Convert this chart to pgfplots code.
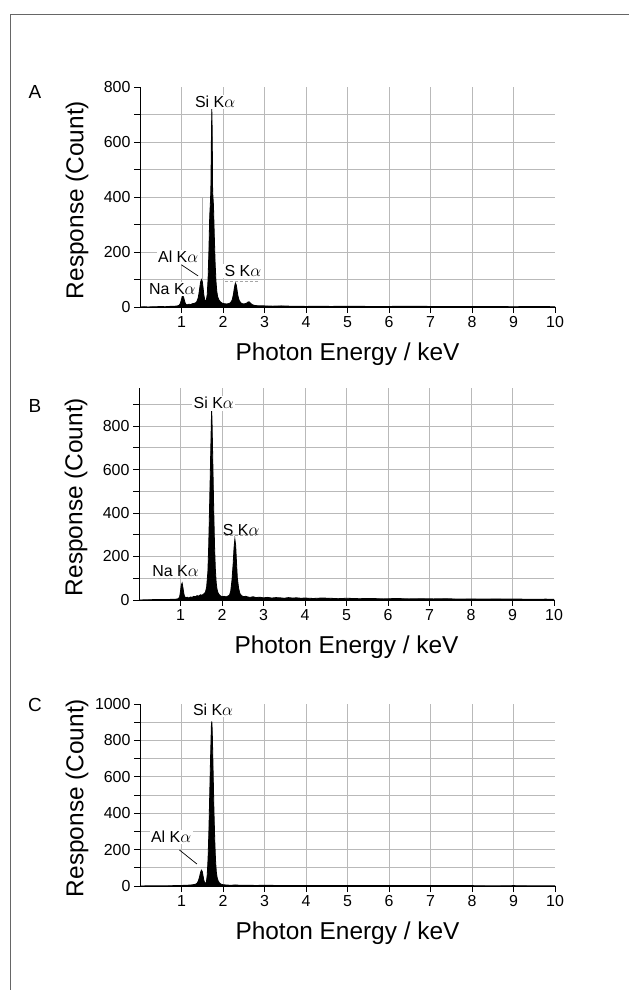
\documentclass[border=0pt]{standalone}
\usepackage{fontspec}
\setmainfont{Liberation Sans}
\usepackage{pgfplots}
\pgfplotsset{compat=1.18}

\pgfplotsset{
  spec/.style={
    scale only axis, width=415bp,
    xmin=0, xmax=10, ymin=0,
    axis lines*=left,
    axis line style={black, line width=0.9bp},
    tick align=outside, major tick length=6bp, minor tick length=6bp,
    tick style={black, line width=0.7bp},
    xtick={1,...,9}, extra x ticks={10},
    extra tick style={grid=none},
    grid=both,
    major grid style={gray!55, line width=0.6bp},
    minor grid style={gray!55, line width=0.6bp},
    ticklabel style={font=\fontsize{16}{16}\selectfont},
    /pgf/number format/assume math mode=true,
    /pgf/number format/1000 sep={},
    xlabel={Photon Energy / keV},
    ylabel={Response (Count)},
    label style={font=\fontsize{24.5}{25}\selectfont},
    xlabel style={at={([yshift=-47bp]rel axis cs:0.5,0)}, anchor=center},
    ylabel style={at={([xshift=-63bp,yshift=-3bp]rel axis cs:0,0.5)}, anchor=center},
  },
  spectrum/.style={fill=black, draw=black, line width=0.8bp, mark=none},
}
\tikzset{peaklab/.style={font=\fontsize{16}{16}\selectfont, fill=white, inner sep=1.5bp}}

\begin{document}
\begin{tikzpicture}
\path[use as bounding box] (0,0) rectangle (629bp,990bp);
\draw[gray!80!black, line width=0.8bp] (10bp,0) -- (10bp,976bp) -- (629bp,976bp);

\node[font=\fontsize{19}{19}\selectfont] at (35bp,898bp) {A};
\node[font=\fontsize{19}{19}\selectfont] at (35bp,584bp) {B};
\node[font=\fontsize{19}{19}\selectfont] at (35bp,285bp) {C};

% ---- A ----
\begin{axis}[spec, at={(140bp,683bp)}, anchor=south west,
  height=220bp, ymax=800,
  ytick={0,200,400,600}, minor ytick={100,300,500,700},
  extra y ticks={800}]
\addplot[spectrum] coordinates {
(0,0) (0.1,1) (0.2,0) (0.3,1) (0.4,1) (0.5,2) (0.6,1) (0.7,2) (0.8,3) (0.85,3)
(0.9,4) (0.94,6) (0.97,12) (0.99,22) (1.01,33) (1.03,40) (1.05,36) (1.07,24)
(1.09,14) (1.11,9) (1.14,8) (1.18,10) (1.22,9) (1.26,12) (1.30,13) (1.34,15)
(1.37,20) (1.40,32) (1.42,48) (1.44,70) (1.46,90) (1.48,100) (1.50,94) (1.52,70)
(1.54,42) (1.56,26) (1.58,21) (1.60,26) (1.62,45) (1.64,100) (1.66,200) (1.68,330)
(1.70,390) (1.71,450) (1.72,600) (1.73,720) (1.74,640) (1.75,420) (1.77,370)
(1.79,260) (1.81,160) (1.83,95) (1.85,58) (1.87,38) (1.90,26) (1.94,18) (1.98,14)
(2.03,12) (2.08,11) (2.13,12) (2.18,15) (2.22,25) (2.25,45) (2.27,65) (2.29,82)
(2.30,87) (2.32,80) (2.34,60) (2.36,40) (2.39,24) (2.43,15) (2.48,11) (2.53,12)
(2.57,14) (2.60,18) (2.63,19) (2.66,14) (2.70,9) (2.75,6) (2.8,5) (2.9,4) (3.0,4)
(3.2,3) (3.4,4) (3.6,3) (3.8,3) (4.0,2) (4.3,3) (4.6,2) (5.0,3) (5.5,2) (6.0,2)
(6.5,3) (7.0,2) (7.5,2) (8.0,2) (8.5,2) (9.0,1) (9.5,2) (10,1)
} \closedcycle;
\draw[gray!60, line width=0.5bp] (axis cs:1.5,100) -- (axis cs:1.5,400);
\draw[black, line width=0.7bp] (axis cs:1.00,153) -- (axis cs:1.40,113);
\draw[gray!70, densely dashed, line width=0.5bp] (axis cs:2.05,95) -- (axis cs:2.84,95);
\node[peaklab] at (axis cs:1.81,745) {Si K$\alpha$};
\node[peaklab] at (axis cs:0.92,182) {Al K$\alpha$};
\node[peaklab] at (axis cs:0.78,65) {Na K$\alpha$};
\node[peaklab] at (axis cs:2.48,131) {S K$\alpha$};
\end{axis}

% ---- B ----
\begin{axis}[spec, at={(139bp,390bp)}, anchor=south west,
  height=212bp, ymax=975,
  ytick={0,200,400,600,800}, minor ytick={100,300,500,700,900}]
\addplot[spectrum] coordinates {
(0,0) (0.2,1) (0.4,2) (0.6,2) (0.8,3) (0.9,4) (0.95,6) (0.98,15) (1.00,40)
(1.02,70) (1.04,78) (1.06,55) (1.08,30) (1.10,15) (1.13,10) (1.16,13) (1.20,9)
(1.24,14) (1.28,12) (1.32,17) (1.36,15) (1.40,20) (1.44,18) (1.48,24) (1.52,22)
(1.56,28) (1.60,35) (1.63,60) (1.66,130) (1.68,250) (1.70,420) (1.72,600)
(1.74,790) (1.75,880) (1.76,820) (1.78,620) (1.80,420) (1.82,250) (1.84,140)
(1.86,80) (1.88,50) (1.90,35) (1.93,25) (1.97,18) (2.01,15) (2.05,17) (2.10,14)
(2.14,18) (2.18,22) (2.21,40) (2.24,90) (2.27,170) (2.29,240) (2.31,280)
(2.33,250) (2.35,170) (2.37,100) (2.40,55) (2.43,30) (2.47,20) (2.52,15)
(2.57,17) (2.62,14) (2.68,12) (2.75,15) (2.82,11) (2.9,13) (3.0,10) (3.1,12)
(3.2,9) (3.3,11) (3.4,10) (3.5,8) (3.6,11) (3.7,9) (3.8,10) (3.9,8) (4.0,9)
(4.2,7) (4.4,9) (4.6,8) (4.8,6) (5.0,8) (5.3,6) (5.6,7) (5.9,5) (6.2,7) (6.5,5)
(6.8,6) (7.1,5) (7.4,6) (7.7,4) (8.0,5) (8.3,4) (8.6,5) (8.9,4) (9.2,4) (9.5,3)
(9.8,4) (10,3)
} \closedcycle;
\draw[gray!70, densely dashed, line width=0.5bp] (axis cs:2.07,299) -- (axis cs:2.80,299);
\draw[gray!70, densely dashed, line width=0.5bp] (axis cs:0.46,101) -- (axis cs:1.50,101);
\node[peaklab] at (axis cs:1.80,905) {Si K$\alpha$};
\node[peaklab, fill=none] at (axis cs:2.46,322) {S K$\alpha$};
\node[peaklab, fill=none] at (axis cs:0.88,133) {Na K$\alpha$};
\end{axis}

% ---- C ----
\begin{axis}[spec, at={(140bp,104bp)}, anchor=south west,
  height=182bp, ymax=1000,
  ytick={0,200,400,600,800}, minor ytick={100,300,500,700,900},
  extra y ticks={1000}]
\addplot[spectrum] coordinates {
(0,0) (0.2,1) (0.4,1) (0.6,1) (0.8,2) (1.0,3) (1.1,4) (1.2,5) (1.28,7) (1.34,10)
(1.38,16) (1.41,30) (1.44,55) (1.46,75) (1.48,87) (1.50,80) (1.52,55) (1.54,30)
(1.56,18) (1.58,16) (1.60,22) (1.62,60) (1.64,150) (1.66,300) (1.68,500)
(1.70,700) (1.72,880) (1.73,905) (1.74,860) (1.76,650) (1.78,430) (1.80,260)
(1.82,140) (1.84,75) (1.86,45) (1.88,30) (1.91,18) (1.95,10) (2.0,7) (2.1,5)
(2.2,4) (2.3,6) (2.4,4) (2.6,4) (2.8,3) (3.0,4) (3.3,3) (3.6,3) (4.0,2) (4.5,3)
(5.0,2) (5.5,3) (6.0,2) (6.5,2) (7.0,2) (7.5,2) (8.0,2) (8.5,1) (9.0,2) (9.5,1)
(10,1)
} \closedcycle;
\draw[black, line width=0.7bp] (axis cs:0.95,198) -- (axis cs:1.37,121);
\node[peaklab] at (axis cs:1.76,968) {Si K$\alpha$};
\node[peaklab] at (axis cs:0.75,270) {Al K$\alpha$};
\end{axis}
\end{tikzpicture}
\end{document}
